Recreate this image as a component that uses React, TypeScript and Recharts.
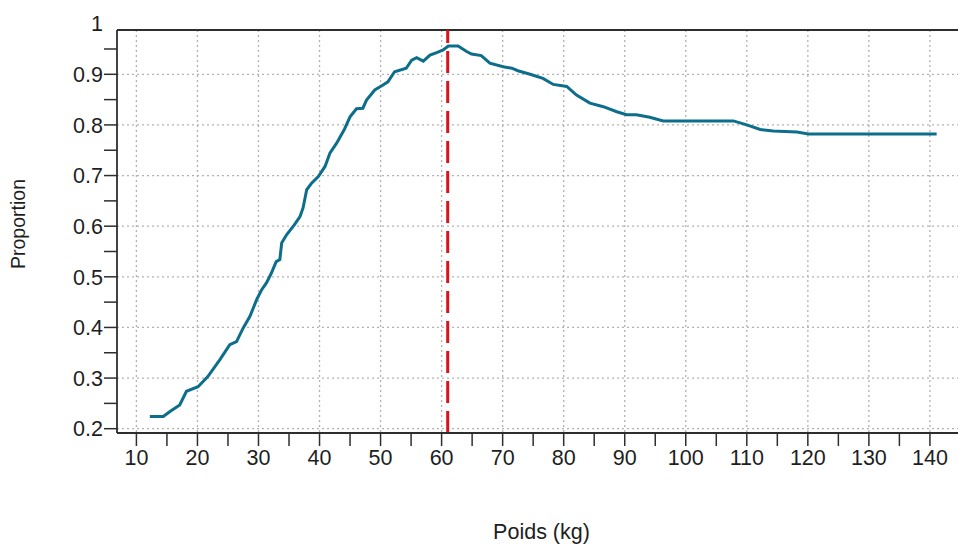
import React from 'react';
import { LineChart, Line, XAxis, YAxis, CartesianGrid, ReferenceLine } from 'recharts';

// Weight (kg) and proportion
const POIDS = [
  12.2, 14.4, 15.5, 17.1, 18.2, 20.1, 21.7, 23.65, 25.3, 26.4, 27.5, 28.6, 29.7, 30.5, 31.3,
  32.1, 32.9, 33.5, 33.8, 34.6, 35.9, 36.8, 37.3, 37.9, 38.7, 39.8, 40.9, 41.7, 42.8, 44.1,
  45.0, 46.05, 47.1, 47.7, 49.05, 50.4, 51.2, 52.3, 54.2, 55.1, 55.9, 57.0, 58.1, 59.2, 60.25,
  61.1, 62.7, 64.1, 64.9, 66.5, 67.9, 70.1, 71.5, 72.5, 74.5, 76.6, 78.3, 80.5, 82.1, 84.3,
  86.5, 88.7, 90.3, 91.9, 94.1, 96.3, 107.8, 110.0, 112.2, 114.3, 118.2, 120.1, 141.1,
];
const PROPORTION = [
  0.224, 0.224, 0.234, 0.247, 0.274, 0.283, 0.303, 0.336, 0.366, 0.372, 0.399, 0.422, 0.455, 0.474, 0.488,
  0.507, 0.530, 0.534, 0.567, 0.583, 0.603, 0.619, 0.636, 0.672, 0.685, 0.698, 0.718, 0.744, 0.764, 0.792,
  0.816, 0.832, 0.833, 0.849, 0.869, 0.879, 0.885, 0.905, 0.912, 0.928, 0.933, 0.926, 0.938, 0.943, 0.948,
  0.956, 0.956, 0.945, 0.940, 0.937, 0.922, 0.915, 0.912, 0.907, 0.900, 0.892, 0.880, 0.876, 0.859, 0.843,
  0.836, 0.826, 0.820, 0.820, 0.815, 0.808, 0.808, 0.800, 0.791, 0.788, 0.786, 0.782, 0.782,
];

const X_TICKS = [10, 15, 20, 25, 30, 35, 40, 45, 50, 55, 60, 65, 70, 75, 80, 85, 90, 95, 100, 105, 110, 115, 120, 125, 130, 135, 140];
const X_GRID = [10, 20, 30, 40, 50, 60, 70, 80, 90, 100, 110, 120, 130, 140];
const Y_TICKS = [0.2, 0.25, 0.3, 0.35, 0.4, 0.45, 0.5, 0.55, 0.6, 0.65, 0.7, 0.75, 0.8, 0.85, 0.9, 0.95, 1];
const Y_GRID = [0.2, 0.3, 0.4, 0.5, 0.6, 0.7, 0.8, 0.9];
const X_DOMAIN: [number, number] = [6.82, 144.6];
const Y_DOMAIN: [number, number] = [0.1915, 0.9875];
const SEUIL = 61;

const FONT = '"Liberation Sans", Arial, sans-serif';
const TEXT = '#1e1e1e';
const AXIS = '#2e2e2e';
const AXIS_X = 117;

const data = POIDS.map((x, i) => ({ x, y: PROPORTION[i] }));

function YTick({ x, y, payload }: any) {
  const v = payload.value as number;
  const major = Math.abs(v * 10 - Math.round(v * 10)) < 1e-6;
  return (
    <g>
      {v < 0.99 && <line x1={AXIS_X - 13} x2={AXIS_X} y1={y} y2={y} stroke={AXIS} strokeWidth={1.5} />}
      {major && (
        <text x={AXIS_X - 14} y={y} dy="0.36em" textAnchor="end" fontSize={21.5} fill={TEXT} fontFamily={FONT}>
          {Math.round(v * 10) / 10}
        </text>
      )}
    </g>
  );
}

export default function App() {
  return (
    <div style={{ position: 'absolute', left: 0, top: 0, width: 958, height: 545, background: '#fff' }}>
      <LineChart
        width={958}
        height={545}
        data={data}
        margin={{ top: 30, right: 0, bottom: 0, left: 0 }}
        style={{ fontFamily: FONT }}
      >
        <CartesianGrid
          stroke="#b2b2b2"
          strokeDasharray="2 3"
          strokeWidth={1.3}
          horizontalValues={Y_GRID}
          verticalValues={X_GRID}
        />
        <XAxis
          type="number"
          dataKey="x"
          domain={X_DOMAIN}
          allowDataOverflow
          ticks={X_TICKS}
          interval={0}
          height={112}
          tickSize={13}
          tickMargin={4}
          stroke={AXIS}
          axisLine={{ stroke: AXIS, strokeWidth: 1.8 }}
          tickLine={{ stroke: AXIS, strokeWidth: 1.5 }}
          tick={{ fontSize: 21.5, fill: TEXT, fontFamily: FONT }}
          tickFormatter={(v: number) => (v % 10 === 0 ? String(v) : '')}
          label={(props: any) => {
            const vb = props.viewBox;
            return (
              <text x={vb.x + vb.width / 2 + 4} y={539} textAnchor="middle" fontSize={21.5} fill={TEXT} fontFamily={FONT}>
                Poids (kg)
              </text>
            );
          }}
        />
        <YAxis
          type="number"
          domain={Y_DOMAIN}
          allowDataOverflow
          ticks={Y_TICKS}
          interval={0}
          width={117}
          tickLine={false}
          axisLine={{ stroke: AXIS, strokeWidth: 1.8 }}
          tick={<YTick />}
          label={(props: any) => {
            const vb = props.viewBox;
            const cy = 224;
            return (
              <text
                x={25}
                y={cy}
                transform={`rotate(-90, 25, ${cy})`}
                textAnchor="middle"
                fontSize={19.5}
                fill={TEXT}
                fontFamily={FONT}
              >
                Proportion
              </text>
            );
          }}
        />
        <ReferenceLine y={Y_DOMAIN[1]} stroke={AXIS} strokeWidth={2} />
        <ReferenceLine x={SEUIL} stroke="#d9121b" strokeWidth={3} strokeDasharray="22 8" />
        <Line
          type="linear"
          dataKey="y"
          stroke="#0d6e8b"
          strokeWidth={3}
          dot={false}
          activeDot={false}
          isAnimationActive={false}
        />
      </LineChart>
    </div>
  );
}
